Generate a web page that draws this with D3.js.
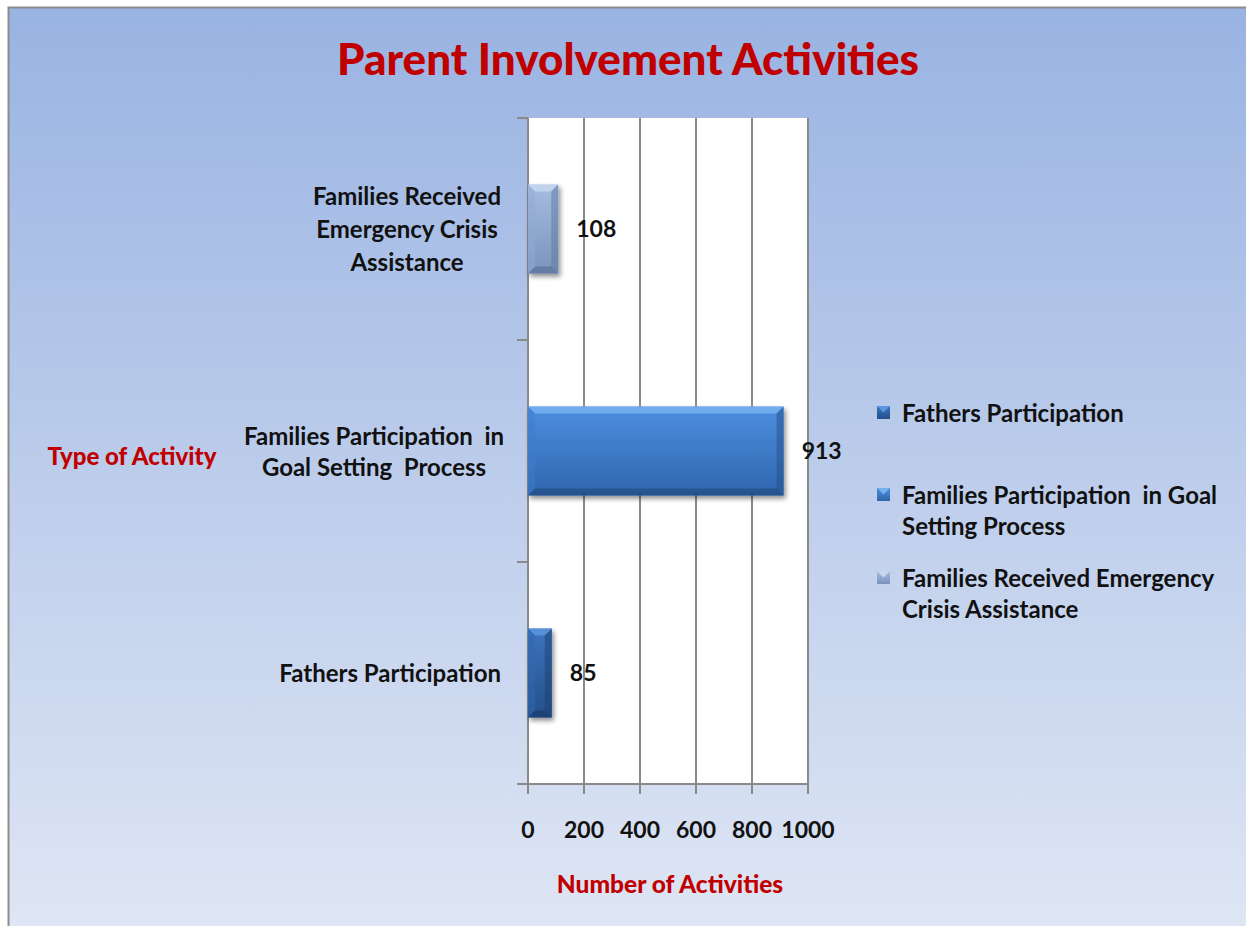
<!DOCTYPE html>
<html><head><meta charset="utf-8">
<script src="https://cdn.jsdelivr.net/npm/d3@7"></script>
<style>html,body{margin:0;padding:0;background:#fff;overflow:hidden;}svg{display:block;}</style>
</head><body>
<script>
// Data
const categories = ["Families Received Emergency Crisis Assistance", "Families Participation in Goal Setting Process", "Fathers Participation"];
const categoryLines = [["Families Received", "Emergency Crisis", "Assistance"], ["Families Participation  in", "Goal Setting  Process"], ["Fathers Participation"]];
const values = [108, 913, 85];
const xTicks = [0, 200, 400, 600, 800, 1000];
const legendItems = ["Fathers Participation", "Families Participation  in Goal|Setting Process", "Families Received Emergency|Crisis Assistance"];
const titleText = "Parent Involvement Activities";
const xTitle = "Number of Activities";
const yTitle = "Type of Activity";

const W = 1246, H = 926;
const svg = d3.select("body").append("svg").attr("width", W).attr("height", H);
const defs = svg.append("defs");
const font = "Lato, 'Open Sans', sans-serif";

// background
const bg = defs.append("linearGradient").attr("id","bg").attr("x1",0).attr("y1",0).attr("x2",0).attr("y2",1);
bg.append("stop").attr("offset","0%").attr("stop-color","#99b3e2");
bg.append("stop").attr("offset","100%").attr("stop-color","#dfe6f4");
svg.append("rect").attr("x",8).attr("y",7).attr("width",W).attr("height",H).attr("fill","url(#bg)");
svg.append("path").attr("d",`M8.5,${H} L8.5,7.5 L${W},7.5`).attr("fill","none").attr("stroke","#8c8c8c").attr("stroke-width",2);

const x = d3.scaleLinear().domain([0,1000]).range([528,808]);
const y = d3.scaleBand().domain(categories).range([118,784]).paddingInner(0.6).paddingOuter(0.3);

// plot area
svg.append("rect").attr("x",x(0)).attr("y",118).attr("width",x(1000)-x(0)).attr("height",784-118).attr("fill","#fff");

// gridlines
svg.append("g").selectAll("line").data(xTicks).join("line")
  .attr("x1",d=>x(d)).attr("x2",d=>x(d)).attr("y1",118).attr("y2",794)
  .attr("stroke","#8a8a8a").attr("stroke-width",2);
// bottom axis line
svg.append("line").attr("x1",517).attr("x2",x(1000)).attr("y1",784).attr("y2",784).attr("stroke","#8a8a8a").attr("stroke-width",2);
// left category boundary ticks
const bounds = [118].concat(categories.map(c => y(c) - y.step()*0.3 + y.step()));
svg.append("g").selectAll("line").data(bounds).join("line")
  .attr("x1",517).attr("x2",x(0)).attr("y1",d=>d).attr("y2",d=>d)
  .attr("stroke","#8a8a8a").attr("stroke-width",2);

// x tick labels
svg.append("g").selectAll("text").data(xTicks).join("text")
  .attr("x",d=>x(d)).attr("y",838).attr("text-anchor","middle")
  .attr("font-family",font).attr("font-weight","bold").attr("font-size",23).attr("fill","#111")
  .text(d=>d);

// bar styles
const colors = [
  {main:["#a6bde0","#7a93bc"], light:"#c5d6ef", dark:"#5f779f", side:"#93aad0"},
  {main:["#4d8ee0","#2f66ad"], light:"#77b0f0", dark:"#244f88", side:"#3f7ccc"},
  {main:["#3d74bd","#234f8a"], light:"#5a95dd", dark:"#1b3f70", side:"#3267ad"}
];
colors.forEach((c,i)=>{
  const g = defs.append("linearGradient").attr("id","bar"+i).attr("x1",0).attr("y1",0).attr("x2",0).attr("y2",1);
  g.append("stop").attr("offset","0%").attr("stop-color",c.main[0]);
  g.append("stop").attr("offset","100%").attr("stop-color",c.main[1]);
});
const sh = defs.append("filter").attr("id","shadow").attr("x","-20%").attr("y","-20%").attr("width","150%").attr("height","150%");
sh.append("feGaussianBlur").attr("in","SourceAlpha").attr("stdDeviation",2.5);
sh.append("feOffset").attr("dx",2).attr("dy",3).attr("result","b");
sh.append("feComponentTransfer").append("feFuncA").attr("type","linear").attr("slope",0.45);
const fm = sh.append("feMerge"); fm.append("feMergeNode"); fm.append("feMergeNode").attr("in","SourceGraphic");

const bars = svg.append("g");
categories.forEach((c,i)=>{
  const x0 = x(0), x1 = x(values[i]), y0 = y(c), y1 = y(c)+y.bandwidth();
  const b = 7;
  const g = bars.append("g").attr("filter","url(#shadow)");
  g.append("rect").attr("x",x0).attr("y",y0).attr("width",x1-x0).attr("height",y1-y0).attr("fill",`url(#bar${i})`);
  const col = colors[i];
  g.append("path").attr("d",`M${x0},${y0}L${x1},${y0}L${x1-b},${y0+b}L${x0+b},${y0+b}Z`).attr("fill",col.light).attr("opacity",0.85);
  g.append("path").attr("d",`M${x0},${y1}L${x1},${y1}L${x1-b},${y1-b}L${x0+b},${y1-b}Z`).attr("fill",col.dark).attr("opacity",0.8);
  g.append("path").attr("d",`M${x0},${y0}L${x0+b},${y0+b}L${x0+b},${y1-b}L${x0},${y1}Z`).attr("fill",col.side).attr("opacity",0.5);
  g.append("path").attr("d",`M${x1},${y0}L${x1-b},${y0+b}L${x1-b},${y1-b}L${x1},${y1}Z`).attr("fill",col.dark).attr("opacity",0.5);
});

// value labels
svg.append("g").selectAll("text").data(values).join("text")
  .attr("x",d=>x(d)+18).attr("y",(d,i)=>y(categories[i])+y.bandwidth()/2+8)
  .attr("font-family",font).attr("font-weight","bold").attr("font-size",23).attr("fill","#111")
  .text(d=>d);

// category labels
const catCenters = [407, 374, 390];
categories.forEach((c,i)=>{
  const lines = categoryLines[i];
  const cy = y(c)+y.bandwidth()/2;
  const lh = i===0 ? 33 : 31;
  const t = svg.append("text").attr("font-family",font).attr("font-weight","bold").attr("font-size",24).attr("fill","#111")
    .attr("text-anchor", lines.length===1 ? "end" : "middle").attr("xml:space","preserve");
  lines.forEach((l,k)=>{
    t.append("tspan").attr("x", lines.length===1 ? 501 : catCenters[i])
      .attr("y", cy + (k-(lines.length-1)/2)*lh + 9).text(l);
  });
});

// titles
svg.append("text").attr("x",628).attr("y",75).attr("text-anchor","middle")
  .attr("font-family",font).attr("font-weight",900).attr("font-size",44).attr("fill","#c00000").text(titleText);
svg.append("text").attr("x",670).attr("y",893).attr("text-anchor","middle")
  .attr("font-family",font).attr("font-weight",900).attr("font-size",24.5).attr("fill","#c00000").text(xTitle);
svg.append("text").attr("x",132).attr("y",465).attr("text-anchor","middle")
  .attr("font-family",font).attr("font-weight",900).attr("font-size",24).attr("fill","#c00000").text(yTitle);

// legend
const legColors = [2,1,0];
const legY = [413, 495, 578];
legendItems.forEach((item,i)=>{
  const col = colors[legColors[i]];
  const g = svg.append("g");
  const mx = 877, my = legY[i]-7, s = 13;
  g.append("rect").attr("x",mx).attr("y",my).attr("width",s).attr("height",s).attr("fill",`url(#bar${legColors[i]})`);
  g.append("path").attr("d",`M${mx},${my}L${mx+s},${my}L${mx+s/2},${my+s/2}Z`).attr("fill",col.light);
  const t = g.append("text").attr("font-family",font).attr("font-weight","bold").attr("font-size",24).attr("fill","#111").attr("xml:space","preserve");
  item.split("|").forEach((l,k)=>{
    t.append("tspan").attr("x",902).attr("y",legY[i]+9+k*31).text(l);
  });
});
</script>
</body></html>
